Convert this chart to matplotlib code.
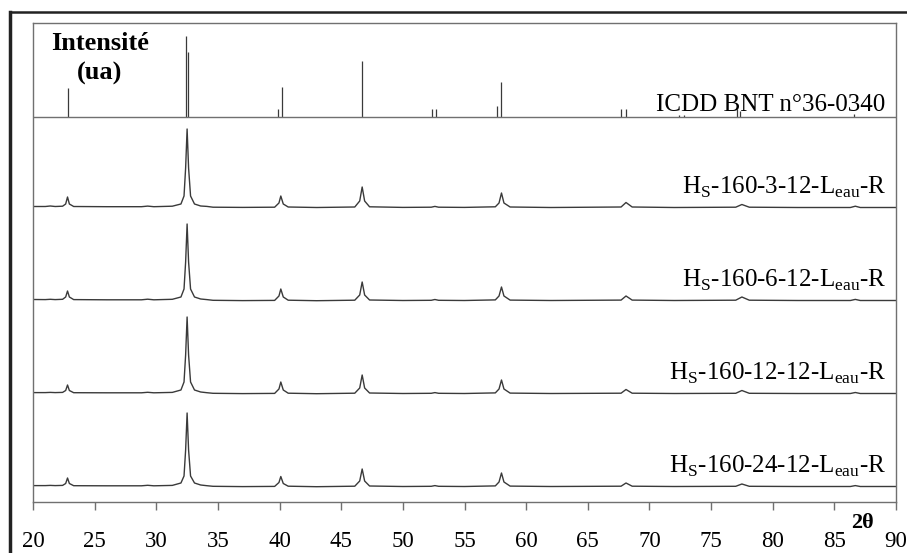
import numpy as np
import matplotlib.pyplot as plt
from matplotlib.lines import Line2D

plt.rcParams['font.family'] = ['Liberation Serif', 'DejaVu Serif']
plt.rcParams['mathtext.fontset'] = 'custom'
plt.rcParams['mathtext.rm'] = 'Liberation Serif'

#### Data ####

# ICDD BNT 36-0340 reference sticks (2theta, relative height)
icdd_pos = [22.8, 32.4, 32.56, 39.85, 40.2, 46.65, 52.4, 52.7, 57.6, 58.0,
            67.7, 68.1, 72.4, 72.8, 77.1, 77.35, 86.6]
icdd_int = [29, 81, 65, 8, 30, 56, 8, 8, 11, 35,
            8, 8, 2, 2, 8, 6, 3]

# measured patterns, all on the same 2theta points
tt = [20.0, 21.0, 21.4, 21.8, 22.4, 22.65, 22.8, 22.95, 23.3, 26.0,
      28.8, 29.3, 29.8, 31.3, 32.0, 32.25, 32.38, 32.5, 32.62, 32.78,
      33.1, 33.6, 34.1, 34.6, 37.0, 39.6, 39.95, 40.1, 40.3, 40.7,
      43.0, 46.1, 46.5, 46.7, 46.9, 47.3, 50.0, 52.3, 52.6, 52.9,
      55.0, 57.5, 57.8, 58.0, 58.2, 58.7, 62.0, 67.7, 68.1, 68.6,
      72.0, 77.0, 77.5, 78.1, 82.0, 86.3, 86.7, 87.1, 90.0]

I_3_12 = [1.5, 1.5, 2.0, 1.5, 1.8, 4, 11, 4, 1.5, 1.3,
          1.3, 1.9, 1.3, 1.8, 4, 12, 40, 79, 40, 12,
          4, 2, 1.6, 0.8, 0.6, 0.8, 5, 12, 4, 1.0,
          0.5, 1.0, 7, 21, 7, 1.2, 0.6, 0.8, 1.6, 0.8,
          0.6, 1.2, 5, 15, 5, 1.0, 0.5, 1.0, 5.5, 1.0,
          0.5, 0.8, 3.5, 0.8, 0.5, 0.5, 1.8, 0.5, 0.5]

I_6_12 = [1.5, 1.4, 1.7, 1.4, 1.7, 4, 10, 4, 1.4, 1.2,
          1.2, 1.8, 1.2, 1.7, 4, 12, 39, 77, 39, 12,
          4, 2, 1.4, 0.7, 0.4, 0.6, 5, 12, 4, 0.8,
          0.3, 0.8, 6, 19, 6, 1.0, 0.5, 0.7, 1.5, 0.7,
          0.5, 1.1, 5, 14, 5, 0.9, 0.5, 0.9, 5, 0.9,
          0.5, 0.8, 4, 0.8, 0.5, 0.5, 1.6, 0.5, 0.5]

I_12_12 = [1.4, 1.4, 1.6, 1.4, 1.6, 3.5, 9, 3.5, 1.3, 1.2,
           1.2, 1.7, 1.2, 1.6, 4, 12, 39, 77, 39, 12,
           4, 2, 1.3, 0.7, 0.4, 0.6, 5, 12, 4, 0.8,
           0.3, 0.8, 6, 19, 6, 1.0, 0.5, 0.7, 1.4, 0.7,
           0.5, 1.1, 5, 14, 5, 0.9, 0.5, 0.8, 4.5, 0.8,
           0.5, 0.7, 3.5, 0.7, 0.5, 0.5, 1.5, 0.5, 0.5]

I_24_12 = [1.4, 1.4, 1.6, 1.4, 1.6, 3.5, 9, 3.5, 1.3, 1.2,
           1.2, 1.7, 1.2, 1.6, 4, 11, 37, 74, 37, 11,
           4, 2, 1.3, 0.7, 0.4, 0.6, 4.5, 10.5, 3.5, 0.8,
           0.3, 0.8, 6, 18, 6, 1.0, 0.5, 0.7, 1.4, 0.7,
           0.5, 1.1, 5, 14, 5, 0.9, 0.5, 0.8, 4, 0.8,
           0.5, 0.7, 3, 0.7, 0.5, 0.5, 1.4, 0.5, 0.5]

labels = [r'H$_\mathregular{S}$-160-3-12-L$_\mathregular{eau}$-R',
          r'H$_\mathregular{S}$-160-6-12-L$_\mathregular{eau}$-R',
          r'H$_\mathregular{S}$-160-12-12-L$_\mathregular{eau}$-R',
          r'H$_\mathregular{S}$-160-24-12-L$_\mathregular{eau}$-R']
offsets = [294, 201, 108, 15]
icdd_base = 385

####################

W, H = 907, 553
fig = plt.figure(figsize=(W / 100, H / 100), dpi=100)
ax = fig.add_axes([33 / W, 1 - 502 / H, (896 - 33) / W, (502 - 23) / H])

spine_col = '#707070'
line_col = '#3a3a3a'

# ICDD sticks
ax.vlines(icdd_pos, icdd_base, np.array(icdd_int) + icdd_base, color=line_col, lw=0.9)
ax.axhline(icdd_base, color=spine_col, lw=1.0)
ax.text(89.1, icdd_base + 6, 'ICDD BNT n°36-0340', ha='right', va='baseline', fontsize=18)

for I, off, lab in zip([I_3_12, I_6_12, I_12_12, I_24_12], offsets, labels):
    ax.plot(tt, np.array(I) + off, color=line_col, lw=1.0)
    ax.text(89.2, off + 14, lab, ha='right', va='baseline', fontsize=18)

ax.set_xlim(20, 90)
ax.set_ylim(0, 479)
ax.set_xticks(np.arange(20, 91, 5))
ax.set_yticks([])
ax.tick_params(axis='x', direction='out', length=6, width=1.0, color=spine_col,
               labelsize=16.5, pad=15)
for s in ax.spines.values():
    s.set_color(spine_col)
    s.set_linewidth(1.0)

fig.text(862 / W, 1 - 523 / H, r'2θ', ha='center', va='center', fontsize=16, fontweight='bold')
fig.text(100 / W, 1 - 43 / H, 'Intensité', ha='center', va='center', fontsize=19, fontweight='bold')
fig.text(100 / W, 1 - 73 / H, '(ua)', ha='center', va='center', fontsize=19, fontweight='bold')

# outer frame
fig.add_artist(Line2D([10 / W, 10 / W], [0, 1 - 12 / H], color='#222222', lw=2.5))
fig.add_artist(Line2D([10 / W, 1], [1 - 12 / H, 1 - 12 / H], color='#222222', lw=1.8))

fig.savefig('out.png', dpi=100, facecolor='white')
